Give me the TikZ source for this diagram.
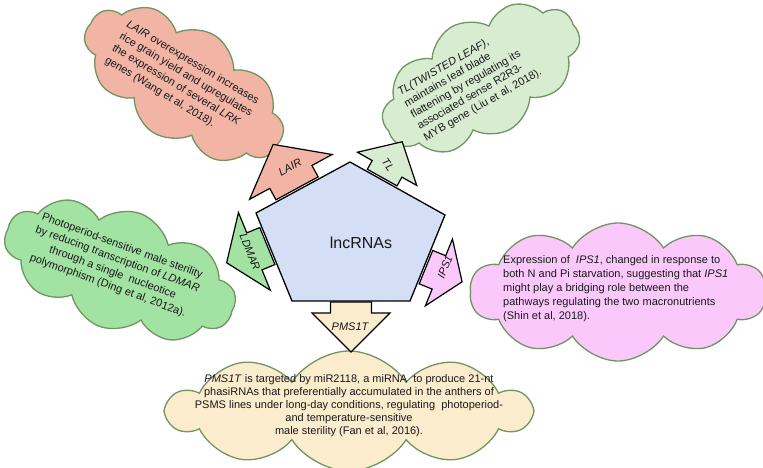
\documentclass[tikz,border=0pt]{standalone}
\usepackage{fontspec}
\setmainfont{Liberation Sans}
\usetikzlibrary{shapes.symbols}

\definecolor{cloudline}{RGB}{112,150,96}
\definecolor{lairfill}{RGB}{242,180,164}
\definecolor{tlfill}{RGB}{216,236,210}
\definecolor{ldmarfill}{RGB}{162,226,162}
\definecolor{ipsfill}{RGB}{250,200,250}
\definecolor{pmsfill}{RGB}{251,236,206}
\definecolor{pentfill}{RGB}{212,222,245}
\definecolor{txt}{RGB}{25,25,25}

\tikzset{
  cloudbox/.style={cloud, cloud puffs=10, cloud puff arc=115, cloud ignores aspect,
    draw=cloudline, line width=1.3pt, inner sep=0pt},
  cloudtext/.style={font=\fontsize{11}{14}\selectfont, text=txt, inner sep=0pt},
  arrowshape/.style={draw=black, line width=1.2pt, line join=miter},
  arrowlabel/.style={font=\fontsize{11}{13}\selectfont\itshape, text=txt, inner sep=0pt},
}

\newcommand\blockarr[8]{%
  \begin{scope}[shift={#1}, rotate=#2]
    \draw[arrowshape, fill=#8] (#3,-#6) -- (#4,-#6) -- (#4,-#7) -- (#5,0) -- (#4,#7) -- (#4,#6) -- (#3,#6) -- cycle;
  \end{scope}}

\begin{document}
\begin{tikzpicture}[x=1pt,y=-1pt]
\useasboundingbox[fill=white] (0,0) rectangle (763,468);

% clouds
\node[cloudbox, fill=lairfill, minimum width=225pt, minimum height=115pt, rotate=-33] (cLAIR) at (184,84) {};
\node[cloudbox, fill=tlfill, minimum width=217pt, minimum height=118pt, rotate=30] (cTL) at (481,78) {};
\node[cloudbox, fill=ldmarfill, minimum width=241pt, minimum height=120pt, rotate=-20] (cLDMAR) at (120,270) {};
\node[cloudbox, fill=ipsfill, minimum width=296pt, minimum height=138pt] (cIPS) at (618,292) {};
\node[cloudbox, fill=pmsfill, minimum width=362pt, minimum height=120pt] (cPMS) at (349,411) {};

% cloud texts
\node[cloudtext, rotate=-31, anchor=north west, align=left, font=\fontsize{11}{14}\selectfont] (tLAIR) at (130,19)
  {\textit{LAIR} overexpression increases\\rice grain yield and upregulates\\the expression of several \textit{LRK}\\genes (Wang et al, 2018).};
\node[cloudtext, rotate=30, anchor=north west, align=left, font=\fontsize{11}{13}\selectfont] (tTL) at (396,89)
  {\textit{TL(TWISTED LEAF)},\\maintains leaf blade\\flattening by regulating its\\associated sense R2R3-\\MYB gene (Liu et al, 2018).};
\node[cloudtext, rotate=-20, align=center] (tLDMAR) at (115,266)
  {Photoperiod-sensitive male sterility\\by reducing transcription of \textit{LDMAR}\\through a single\ \ nucleotice\\polymorphism (Ding et al, 2012a).};
\node[cloudtext, anchor=west, align=left] (tIPS) at (503,289)
  {Expression of\ \ \textit{IPS1}, changed in response to\\both N and Pi starvation, suggesting that \textit{IPS1}\\might play a bridging role between the\\pathways regulating the two macronutrients\\(Shin et al, 2018).};
\node[cloudtext, align=center, font=\fontsize{11}{13}\selectfont] (tPMS) at (349,406)
  {\textit{PMS1T} is targeted by miR2118, a miRNA\ \ to produce 21-nt\\phasiRNAs that preferentially accumulated in the anthers of\\PSMS lines under long-day conditions, regulating\ \ photoperiod-\\and temperature-sensitive\\male sterility (Fan et al, 2016).};

% block arrows: foot, angle, gap, base, tip, shaft half, head half, fill
\blockarr{(298,190.1)}{118.5}{2}{15}{52}{24}{47}{lairfill}
\blockarr{(381.2,179.3)}{60.8}{2}{12}{43}{17}{34}{tlfill}
\blockarr{(269.2,245.3)}{202.3}{2}{16}{46}{20}{42}{ldmarfill}
\blockarr{(424.1,266.4)}{-22.1}{2}{16}{41}{18}{36}{ipsfill}
\blockarr{(351,301)}{-90}{1}{12}{51}{20.5}{39}{pmsfill}

% pentagon
\draw[fill=pentfill, line width=1.3pt, line join=miter] (350,162) -- (445,215) -- (410,301) -- (292,301) -- (256,213) -- cycle;
\node[font=\fontsize{16}{18}\selectfont, text=txt, inner sep=0pt] (center) at (361,243) {lncRNAs};

% arrow labels
\node[arrowlabel, rotate=28.5] (lLAIR) at (290,167) {LAIR};
\node[arrowlabel, rotate=-55] (lTL) at (388,165) {TL};
\node[arrowlabel, rotate=-68] (lLDMAR) at (250,252) {LDMAR};
\node[arrowlabel, rotate=68] (lIPS) at (445,267) {IPS1};
\node[arrowlabel] (lPMS) at (350,327) {PMS1T};
\end{tikzpicture}
\end{document}
